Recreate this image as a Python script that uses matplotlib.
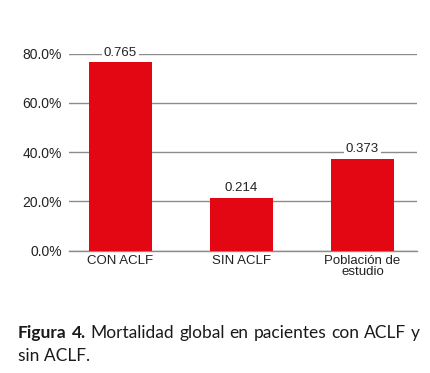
import matplotlib
matplotlib.use("Agg")
import matplotlib.pyplot as plt
from matplotlib.ticker import FuncFormatter

categorias = ["CON ACLF", "SIN ACLF", "Población de\nestudio"]
mortalidad = [0.765, 0.214, 0.373]
yticks = [0.0, 0.2, 0.4, 0.6, 0.8]

rojo = "#e30613"
gris = "#8c8c8c"

plt.rcParams['font.family'] = ['Liberation Sans', 'DejaVu Sans']

fig = plt.figure(figsize=(4.31, 3.73), dpi=100)
ax = fig.add_axes([69 / 431, 1 - 250.5 / 373, 348 / 431, (250.5 - 53.7) / 373])

x = list(range(len(categorias)))
ax.bar(x, mortalidad, width=0.52, color=rojo, zorder=2)

for xi, v in zip(x, mortalidad):
    ax.annotate(f"{v:.3f}", (xi, v), xytext=(0, 2.5), textcoords="offset points",
                ha="center", va="bottom", fontsize=9.5, color="#222222", zorder=3,
                bbox=dict(boxstyle="square,pad=0.12", fc="white", ec="none"))

ax.set_xlim(-0.4256, 2.45)
ax.set_ylim(0, 0.8)
ax.set_yticks(yticks)
ax.yaxis.set_major_formatter(FuncFormatter(lambda v, p: f"{v * 100:.1f}%"))
ax.set_xticks(x)
ax.set_xticklabels(categorias, fontsize=9.5, linespacing=0.9)
ax.tick_params(axis="y", length=0, pad=5, labelsize=10, labelcolor="#222222")
ax.tick_params(axis="x", length=0, pad=3, labelcolor="#222222")
ax.grid(axis="y", color=gris, linewidth=1.0, zorder=1)
ax.axhline(0, color=gris, linewidth=1.0, zorder=1, clip_on=False)
for s in ax.spines.values():
    s.set_visible(False)
ax.set_axisbelow(True)

# pie de figura, primera linea justificada
cap = ['Lato', 'DejaVu Sans']
tam = 12.5
x0, x1 = 18, 420
palabras = [("Figura", "bold"), ("4.", "bold"), ("Mortalidad", "normal"),
            ("global", "normal"), ("en", "normal"), ("pacientes", "normal"),
            ("con", "normal"), ("ACLF", "normal"), ("y", "normal")]
r = fig.canvas.get_renderer()
objs = []
for w, fw in palabras:
    t = fig.text(0, 1 - 333 / 373, w, fontsize=tam, fontweight=fw, family=cap,
                 va="center", color="#1a1a1a")
    objs.append(t)
anchos = [t.get_window_extent(r).width for t in objs]
hueco = (x1 - x0 - sum(anchos)) / (len(objs) - 1)
pos = x0
for t, a in zip(objs, anchos):
    t.set_x(pos / 431)
    pos += a + hueco
fig.text(x0 / 431, 1 - 356 / 373, "sin ACLF.", fontsize=tam, family=cap,
         va="center", color="#1a1a1a")

fig.savefig("out.png", dpi=100)
